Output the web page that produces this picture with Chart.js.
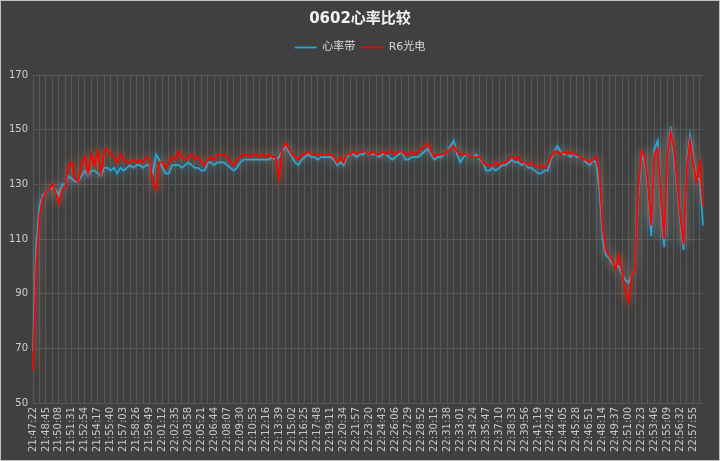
<!DOCTYPE html>
<html>
<head>
<meta charset="utf-8">
<script src="https://cdn.jsdelivr.net/npm/chart.js@4"></script>
<style>
  body { margin: 0; background: #404040; }
  #wrap { width: 720px; height: 461px; box-sizing: border-box; border: 1px solid #bfbfbf; background: #404040; }
  canvas { display: block; }
</style>
</head>
<body>
<div id="wrap"><canvas id="myChart" width="718" height="459"></canvas></div>
<script>
// tick labels shown on the x axis, one every 4 samples
var tickLabels = ['21:47:22','21:48:45','21:50:08','21:51:31','21:52:54','21:54:17','21:55:40','21:57:03',
  '21:58:26','21:59:49','22:01:12','22:02:35','22:03:58','22:05:21','22:06:44','22:08:07','22:09:30',
  '22:10:53','22:12:16','22:13:39','22:15:02','22:16:25','22:17:48','22:19:11','22:20:34','22:21:57',
  '22:23:20','22:24:43','22:26:06','22:27:29','22:28:52','22:30:15','22:31:38','22:33:01','22:34:24',
  '22:35:47','22:37:10','22:38:33','22:39:56','22:41:19','22:42:42','22:44:05','22:45:28','22:46:51',
  '22:48:14','22:49:37','22:51:00','22:52:23','22:53:46','22:55:09','22:56:32','22:57:55'];

// 心率带
var beltHR = [
  69,108,122,126,127,128,129,128,126,130,
  130,133,132,131,131,133,135,133,135,135,
  134,133,136,136,135,136,134,136,135,136,
  137,136,137,137,136,137,137,134,141,139,
  136,134,134,137,137,137,136,137,138,137,
  136,136,135,135,138,138,137,138,138,138,
  137,136,135,136,138,139,139,139,139,139,
  139,139,139,139,140,139,140,142,144,142,
  140,138,137,139,140,141,140,140,139,140,
  140,140,140,139,137,138,137,140,141,141,
  140,141,141,142,141,141,141,140,141,141,
  140,139,140,141,142,139,139,140,140,140,
  141,142,143,141,139,140,140,141,142,144,
  146,141,138,140,141,140,140,141,139,138,
  135,135,136,135,136,137,137,138,139,138,
  138,137,138,136,136,135,134,134,135,135,
  139,142,144,142,141,141,140,141,140,140,
  139,138,137,139,138,128,110,104,103,101,
  100,100,97,95,94,97,99,125,141,138,
  128,111,143,146,122,107,138,151,140,129,
  116,106,138,148,140,132,132,115];

// R6光电
var r6HR = [
  62,100,118,125,127,128,130,127,123,128,
  129,137,138,132,131,138,140,134,141,137,
  142,134,142,143,141,140,138,141,139,138,
  138,139,138,139,138,140,139,131,128,138,
  138,136,138,140,139,142,140,139,140,141,
  139,140,138,137,139,140,139,141,141,141,
  140,138,137,139,140,141,141,140,141,141,
  140,141,140,141,140,140,132,143,145,143,
  141,140,139,141,141,142,141,141,141,141,
  141,141,141,140,138,140,138,141,141,142,
  141,142,142,142,141,142,141,141,142,141,
  142,142,141,142,142,141,141,142,141,142,
  143,144,145,142,140,141,141,141,142,143,
  144,142,141,141,141,140,140,140,140,138,
  137,137,137,138,137,138,138,139,140,139,
  140,138,138,137,138,137,136,137,136,137,
  140,142,142,141,142,141,142,141,141,140,
  139,139,138,139,140,134,114,106,104,102,
  99,104,98,91,87,97,99,128,142,140,
  130,115,141,143,125,110,140,149,143,131,
  118,108,136,146,138,131,138,122];

var labels = [];
for (var i = 0; i < beltHR.length; i++) {
  labels.push(i % 4 == 0 ? tickLabels[i / 4] : '');
}

// soft glow under each line, like the Excel shadow
var glow = {
  id: 'glow',
  beforeDatasetDraw: function(chart, args) {
    var ctx = chart.ctx;
    ctx.save();
    ctx.shadowColor = args.index == 0 ? 'rgba(255,130,50,0.7)' : 'rgba(40,170,230,0.7)';
    ctx.shadowBlur = 10;
    ctx.shadowOffsetX = 0;
    ctx.shadowOffsetY = 0;
  },
  afterDatasetDraw: function(chart) {
    chart.ctx.restore();
  }
};

var gridColor = '#585858';

var ctx = document.getElementById('myChart').getContext('2d');
var chart = new Chart(ctx, {
  type: 'line',
  data: {
    labels: labels,
    datasets: [{
      label: 'R6光电',
      data: r6HR,
      borderColor: '#ff0000',
      backgroundColor: '#ff0000',
      borderWidth: 1.75
    }, {
      label: '心率带',
      data: beltHR,
      borderColor: '#22a8da',
      backgroundColor: '#22a8da',
      borderWidth: 1.75
    }]
  },
  plugins: [glow],
  options: {
    responsive: false,
    animation: false,
    events: [],
    pointRadius: 0,
    tension: 0,
    layout: { padding: 0 },
    scales: {
      x: {
        type: 'category',
        offset: false,
        border: { display: false },
        grid: {
          drawTicks: false,
          color: function(c) { return c.index % 2 == 0 ? gridColor : 'rgba(0,0,0,0)'; }
        },
        ticks: {
          autoSkip: false,
          maxRotation: 90,
          minRotation: 90,
          padding: 4,
          color: '#c8c8c8',
          font: { size: 10, family: 'DejaVu Sans' }
        },
        afterFit: function(scale) { scale.height = 57; }
      },
      y: {
        min: 50,
        max: 170,
        border: { display: false },
        grid: { drawTicks: false, color: gridColor },
        ticks: {
          stepSize: 20,
          padding: 5,
          color: '#d0d0d0',
          font: { size: 10, family: 'DejaVu Sans' }
        },
        afterFit: function(scale) { scale.width = 32; }
      },
      y2: {
        position: 'right',
        grid: { display: false },
        border: { display: false },
        ticks: { display: false },
        afterFit: function(scale) { scale.width = 12; }
      }
    },
    plugins: {
      title: {
        display: true,
        text: '0602心率比较',
        color: '#f2f2f2',
        font: { size: 15, weight: 'bold', family: "'DejaVu Sans', 'Noto Sans CJK SC'" },
        padding: { top: 9, bottom: 8 }
      },
      legend: {
        display: true,
        reverse: true,
        labels: {
          usePointStyle: true,
          pointStyle: 'line',
          pointStyleWidth: 22,
          padding: 6,
          color: '#d9d9d9',
          font: { size: 11, family: "'DejaVu Sans', 'Noto Sans CJK SC'" }
        }
      },
      subtitle: {
        display: true,
        text: '',
        weight: 500,
        padding: 0,
        font: { size: 10 }
      },
      tooltip: { enabled: false }
    }
  }
});
</script>
</body>
</html>
